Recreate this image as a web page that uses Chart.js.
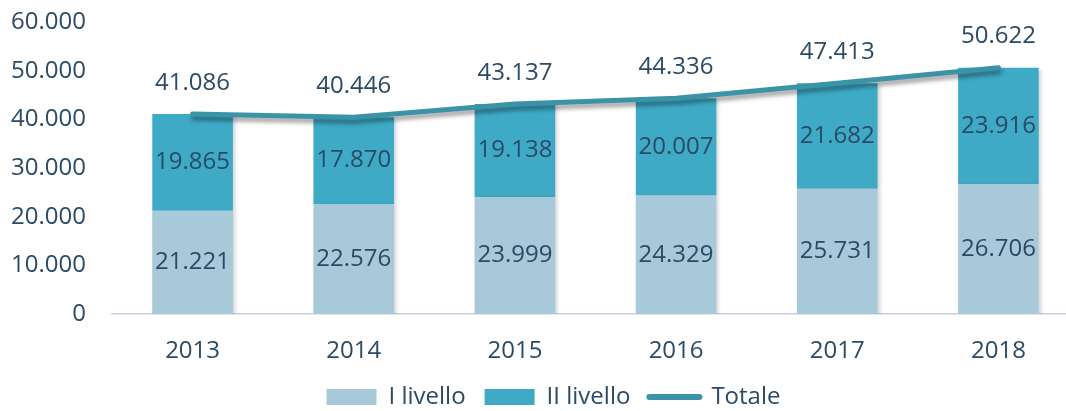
<!DOCTYPE html>
<html>
<head>
<meta charset="utf-8">
<script src="https://cdn.jsdelivr.net/npm/chart.js@4/dist/chart.umd.min.js"></script>
<style>
  html, body { margin: 0; padding: 0; background: #fff; overflow: hidden; }
  #wrap { width: 1080px; height: 419px; position: relative; }
</style>
</head>
<body>
<div id="wrap"><canvas id="myChart"></canvas></div>
<script>
const years = ['2013', '2014', '2015', '2016', '2017', '2018'];
const primoLivello = [21221, 22576, 23999, 24329, 25731, 26706];
const secondoLivello = [19865, 17870, 19138, 20007, 21682, 23916];
const totale = [41086, 40446, 43137, 44336, 47413, 50622];

const textColor = '#2b4a66';
const fontFamily = '"Open Sans", sans-serif';

function fmt(v) {
    return String(v).replace(/\B(?=(\d{3})+(?!\d))/g, '.');
}

// ombra leggera su barre e linea
const shadowPlugin = {
    id: 'shadow',
    beforeDatasetDraw(chart, args) {
        const ctx = chart.ctx;
        ctx.save();
        if (args.meta.type === 'line') {
            ctx.shadowColor = 'rgba(0,0,0,0.38)';
            ctx.shadowBlur = 4;
            ctx.shadowOffsetX = 1;
            ctx.shadowOffsetY = 4;
        } else {
            ctx.shadowColor = 'rgba(0,0,0,0.18)';
            ctx.shadowBlur = 4;
            ctx.shadowOffsetX = 2;
            ctx.shadowOffsetY = 2;
        }
    },
    afterDatasetDraw(chart) {
        chart.ctx.restore();
    }
};

// legenda un po' spostata a destra come nell'originale
const legendShift = {
    id: 'legendShift',
    afterLayout(chart) {
        chart.legend.left += 28;
    }
};

// etichette dei valori
const labelPlugin = {
    id: 'valueLabels',
    afterDatasetsDraw(chart) {
        const ctx = chart.ctx;
        ctx.save();
        ctx.font = '24px ' + fontFamily;
        ctx.fillStyle = textColor;
        ctx.textAlign = 'center';
        ctx.textBaseline = 'middle';
        chart.data.datasets.forEach((ds, i) => {
            const meta = chart.getDatasetMeta(i);
            meta.data.forEach((el, j) => {
                if (meta.type === 'bar') {
                    ctx.fillText(fmt(ds.data[j]), el.x, (el.y + el.base) / 2);
                } else {
                    ctx.fillText(fmt(ds.data[j]), el.x, el.y - 31);
                }
            });
        });
        ctx.restore();
    }
};

const ctx = document.getElementById('myChart').getContext('2d');
const myChart = new Chart(ctx, {
    type: 'bar',
    data: {
        labels: years,
        datasets: [{
            label: 'I livello',
            data: primoLivello,
            backgroundColor: '#a8c9d9',
            stack: 'bars',
            barPercentage: 0.5,
            categoryPercentage: 1
        }, {
            label: 'II livello',
            data: secondoLivello,
            backgroundColor: '#3eaac6',
            stack: 'bars',
            barPercentage: 0.5,
            categoryPercentage: 1
        }, {
            type: 'line',
            label: 'Totale',
            data: totale,
            borderColor: '#3a93a6',
            backgroundColor: '#3a93a6',
            borderWidth: 5,
            borderCapStyle: 'round',
            pointRadius: 0,
            tension: 0,
            stack: 'line',
            order: -1
        }]
    },
    options: {
        responsive: true,
        maintainAspectRatio: false,
        animation: false,
        layout: { padding: { left: 0, top: 0, right: 1, bottom: 0 } },
        plugins: {
            tooltip: { enabled: false },
            legend: {
                position: 'bottom',
                labels: {
                    color: textColor,
                    font: { family: fontFamily, size: 24 },
                    usePointStyle: true,
                    pointStyleWidth: 50,
                    boxWidth: 50,
                    boxHeight: 16,
                    padding: 19,
                    sort: (a, b) => a.datasetIndex - b.datasetIndex,
                    generateLabels(chart) {
                        const items = Chart.defaults.plugins.legend.labels.generateLabels(chart);
                        items.forEach(it => {
                            const ds = chart.data.datasets[it.datasetIndex];
                            if (ds.type === 'line') {
                                it.pointStyle = 'line';
                                it.lineWidth = 6;
                                it.lineCap = 'round';
                                it.strokeStyle = ds.borderColor;
                            } else {
                                it.pointStyle = 'rect';
                                it.lineWidth = 0;
                            }
                        });
                        return items;
                    }
                }
            }
        },
        scales: {
            x: {
                stacked: true,
                grid: { display: false, drawTicks: false },
                border: { display: true, color: '#c9cee0', width: 1.5 },
                afterFit: scale => { scale.height = 52; },
                ticks: {
                    color: textColor,
                    font: { family: fontFamily, size: 24, lineHeight: 1 },
                    padding: 25
                }
            },
            y: {
                stacked: true,
                min: 0,
                max: 60000,
                grid: { display: false, drawTicks: false },
                border: { display: false },
                afterFit: scale => {
                    scale.width = 112;
                    scale.paddingTop = 22;
                },
                ticks: {
                    stepSize: 10000,
                    color: textColor,
                    font: { family: fontFamily, size: 24 },
                    padding: 26,
                    callback: v => fmt(v)
                }
            }
        }
    },
    plugins: [shadowPlugin, legendShift, labelPlugin]
});
</script>
</body>
</html>
